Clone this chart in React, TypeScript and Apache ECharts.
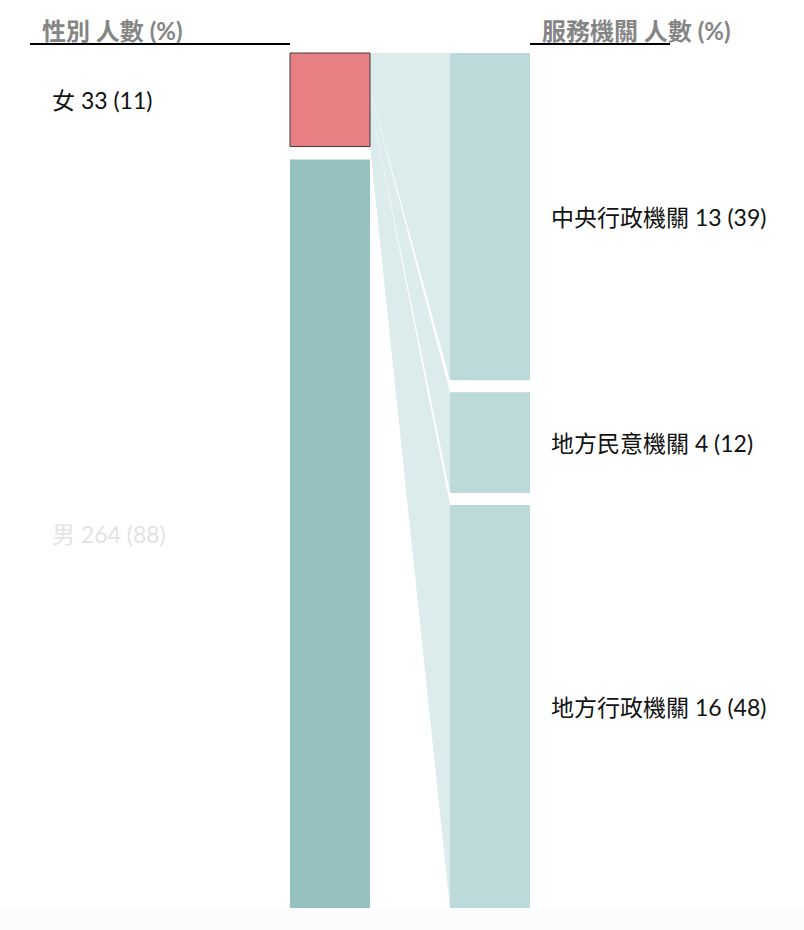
import React, { useEffect, useRef } from 'react';
import * as echarts from 'echarts';

// ---- data ----
const leftTitle = '性別 人數 (%)';
const rightTitle = '服務機關 人數 (%)';
const genderNames = ['女', '男'];
const genderCounts = [33, 264];
const genderPcts = [11, 88];
const focusIndex = 0; // the node broken down on the right (女)
const agencyNames = ['中央行政機關', '地方民意機關', '地方行政機關'];
const agencyCounts = [13, 4, 16];
const agencyPcts = [39, 12, 48];

// ---- styles ----
const FONT = "Lato, 'Noto Sans CJK TC', sans-serif";
const LABEL_SIZE = 23;
const TITLE_SIZE = 24;
const LEFT_GAP = 13;
const RIGHT_GAP = 12;
const genderColors = ['#e88084', '#95c1c1'];
const genderLabelColors = ['#111111', '#e3e3e3'];
const agencyColor = '#bcdada';
const flowColor = '#dcebeb';

function stack(values: number[], top: number, bottom: number, gap: number) {
  const total = values.reduce((a, b) => a + b, 0);
  const avail = bottom - top - gap * (values.length - 1);
  let y = top;
  return values.map((v) => {
    const h = (avail * v) / total;
    const r = [y, y + h];
    y += h + gap;
    return r;
  });
}

function frame(api: any) {
  const a = api.coord([0, 0]);
  const b = api.coord([1, 1]);
  const c = api.coord([2, 1]);
  const d = api.coord([3, 1]);
  const top = Math.min(a[1], b[1]);
  const bottom = Math.max(a[1], b[1]);
  return { xL0: a[0], xL1: b[0], xR0: c[0], xR1: d[0], top, bottom };
}

export default function App() {
  const ref = useRef<HTMLDivElement>(null);
  useEffect(() => {
    if (!ref.current) return;
    const chart = echarts.init(ref.current, undefined, { renderer: 'svg' });
    const option: any = {
      animation: false,
      grid: { left: 290, right: 274, top: 53, bottom: 22 },
      xAxis: { type: 'value', min: 0, max: 3, show: false },
      yAxis: { type: 'value', min: 0, max: 1, inverse: true, show: false },
      graphic: [
        { type: 'rect', shape: { x: 0, y: 910, width: 804, height: 20 }, style: { fill: '#fcfcfc' }, z: -10 },
        {
          type: 'text', x: 42, y: 30,
          style: { text: leftTitle, fill: '#858585', fontSize: TITLE_SIZE, fontWeight: 'bold', fontFamily: FONT, align: 'left', verticalAlign: 'middle' },
        },
        { type: 'line', shape: { x1: 30, y1: 44, x2: 290, y2: 44 }, style: { stroke: '#000', lineWidth: 2 } },
        {
          type: 'text', x: 542, y: 30,
          style: { text: rightTitle, fill: '#858585', fontSize: TITLE_SIZE, fontWeight: 'bold', fontFamily: FONT, align: 'left', verticalAlign: 'middle' },
        },
        { type: 'line', shape: { x1: 530, y1: 44, x2: 670, y2: 44 }, style: { stroke: '#000', lineWidth: 2 } },
      ],
      series: [
        {
          type: 'custom',
          name: 'flows',
          coordinateSystem: 'cartesian2d',
          clip: false,
          z: 1,
          data: agencyCounts.map((v, i) => [i, v]),
          renderItem: (params: any, api: any) => {
            const f = frame(api);
            const i = params.dataIndex;
            const leftNodes = stack(genderCounts, f.top, f.bottom, LEFT_GAP);
            const src = leftNodes[focusIndex];
            const leftSeg = stack(agencyCounts, src[0], src[1], 0)[i];
            const right = stack(agencyCounts, f.top, f.bottom, RIGHT_GAP)[i];
            return {
              type: 'polygon',
              shape: {
                points: [
                  [f.xL1, leftSeg[0]],
                  [f.xR0, right[0]],
                  [f.xR0, right[1]],
                  [f.xL1, leftSeg[1]],
                ],
              },
              style: { fill: flowColor },
            };
          },
        },
        {
          type: 'custom',
          name: 'gender',
          coordinateSystem: 'cartesian2d',
          clip: false,
          z: 2,
          data: genderCounts.map((v, i) => [i, v]),
          renderItem: (params: any, api: any) => {
            const f = frame(api);
            const i = params.dataIndex;
            const n = stack(genderCounts, f.top, f.bottom, LEFT_GAP)[i];
            const focus = i === focusIndex;
            return {
              type: 'group',
              children: [
                {
                  type: 'rect',
                  shape: { x: f.xL0, y: n[0], width: f.xL1 - f.xL0, height: n[1] - n[0] },
                  style: focus
                    ? { fill: genderColors[i], stroke: '#3a3a3a', lineWidth: 1 }
                    : { fill: genderColors[i] },
                },
                {
                  type: 'text',
                  style: {
                    text: `${genderNames[i]} ${genderCounts[i]} (${genderPcts[i]})`,
                    x: 52, y: (n[0] + n[1]) / 2,
                    fill: genderLabelColors[i],
                    fontSize: LABEL_SIZE, fontFamily: FONT,
                    align: 'left', verticalAlign: 'middle',
                    textAlign: 'left', textVerticalAlign: 'middle',
                  },
                },
              ],
            };
          },
        },
        {
          type: 'custom',
          name: 'agency',
          coordinateSystem: 'cartesian2d',
          clip: false,
          z: 2,
          data: agencyCounts.map((v, i) => [i, v]),
          renderItem: (params: any, api: any) => {
            const f = frame(api);
            const i = params.dataIndex;
            const n = stack(agencyCounts, f.top, f.bottom, RIGHT_GAP)[i];
            return {
              type: 'group',
              children: [
                {
                  type: 'rect',
                  shape: { x: f.xR0, y: n[0], width: f.xR1 - f.xR0, height: n[1] - n[0] },
                  style: { fill: agencyColor },
                },
                {
                  type: 'text',
                  style: {
                    text: `${agencyNames[i]} ${agencyCounts[i]} (${agencyPcts[i]})`,
                    x: f.xR1 + 21, y: (n[0] + n[1]) / 2,
                    fill: '#111111',
                    fontSize: LABEL_SIZE, fontFamily: FONT,
                    align: 'left', verticalAlign: 'middle',
                    textAlign: 'left', textVerticalAlign: 'middle',
                  },
                },
              ],
            };
          },
        },
      ],
    };
    chart.setOption(option);
    return () => chart.dispose();
  }, []);
  return (
    <div
      ref={ref}
      style={{ position: 'absolute', left: 0, top: 0, width: 804, height: 930 }}
    />
  );
}
